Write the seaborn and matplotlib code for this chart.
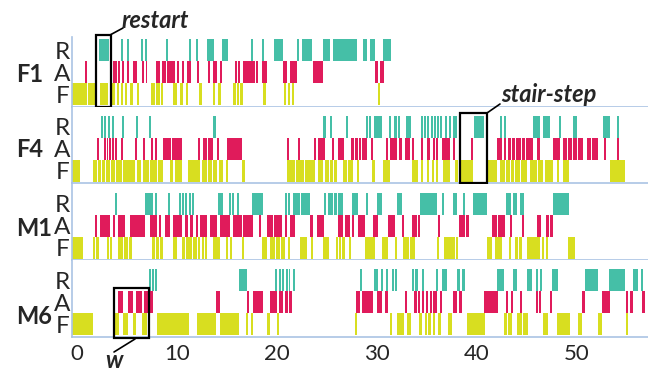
import matplotlib
matplotlib.use("Agg")
import matplotlib.pyplot as plt
from matplotlib.patches import Rectangle
from matplotlib.lines import Line2D
import seaborn as sns

# event segments (start, end) in seconds
F1_R = [(2.2, 3.2), (4.4, 4.6), (5.0, 5.2), (6.4, 6.6), (6.8, 7.0), (8.9, 9.1), (11.2, 11.4), (11.9, 12.1),
        (13.0, 13.7), (14.5, 15.1), (17.4, 17.6), (18.5, 18.7), (19.7, 20.6), (22.0, 22.2), (22.5, 23.5),
        (24.6, 25.3), (25.6, 28.0), (28.6, 29.0), (29.3, 29.8), (30.6, 31.4)]
F1_A = [(0.8, 1.0), (3.6, 4.0), (4.1, 4.3), (4.5, 4.7), (5.0, 5.2), (5.6, 6.0), (6.5, 6.7), (6.9, 7.0),
        (7.9, 8.3), (8.5, 8.9), (9.0, 9.8), (10.0, 10.2), (10.5, 10.7), (11.0, 11.4), (12.0, 12.2),
        (13.1, 13.3), (13.6, 14.0), (14.3, 14.5), (15.8, 16.0), (16.1, 16.3), (16.6, 17.8), (17.9, 18.1),
        (18.5, 19.0), (20.6, 21.0), (21.3, 22.0), (23.6, 24.6), (29.8, 30.1), (30.3, 30.7)]
F1_F = [(-0.5, 1.0), (1.1, 1.9), (2.3, 3.1), (3.5, 3.8), (4.0, 4.2), (4.4, 4.6), (4.8, 5.0), (5.3, 5.6),
        (6.0, 6.2), (7.4, 7.8), (7.9, 8.3), (8.4, 8.6), (9.6, 10.0), (10.3, 10.6), (10.9, 11.1),
        (12.2, 12.5), (13.6, 13.8), (14.1, 14.4), (15.6, 15.9), (16.0, 16.2), (16.3, 16.6), (18.6, 18.9),
        (20.7, 20.9), (21.1, 21.3), (21.5, 21.7), (30.1, 30.3)]

F4_R = [(2.4, 2.6), (2.7, 2.9), (3.1, 3.3), (3.5, 3.7), (4.5, 4.7), (5.9, 6.1), (7.2, 7.4), (13.6, 13.9),
        (24.6, 24.9), (25.3, 25.5), (26.9, 27.1), (28.9, 29.1), (29.2, 29.4), (29.7, 30.5), (31.2, 31.4),
        (31.7, 32.0), (32.1, 32.3), (32.9, 33.4), (34.4, 34.6), (34.7, 34.9), (35.0, 35.2), (35.4, 35.6),
        (35.7, 35.9), (36.0, 36.2), (36.3, 36.5), (36.8, 37.0), (37.2, 37.4), (37.6, 38.0), (39.7, 40.7),
        (42.3, 42.5), (42.7, 42.9), (45.6, 46.3), (46.6, 47.3), (48.2, 48.4), (49.6, 50.0), (52.6, 53.3),
        (54.0, 54.2)]
F4_A = [(2.0, 2.2), (2.7, 2.9), (3.0, 3.1), (3.2, 3.4), (3.5, 3.7), (3.8, 4.0), (4.4, 4.6), (5.8, 6.0),
        (6.6, 6.8), (7.4, 7.6), (7.8, 8.0), (8.6, 9.4), (9.5, 10.5), (12.1, 12.3), (12.6, 13.0), (13.1, 13.6),
        (14.0, 14.2), (15.0, 16.5), (21.0, 21.2), (22.1, 22.3), (23.7, 23.9), (24.1, 24.8), (25.5, 25.7),
        (26.1, 26.7), (27.4, 27.7), (27.8, 28.1), (28.2, 28.4), (28.5, 29.0), (29.4, 29.6), (30.9, 31.1),
        (31.3, 32.0), (32.2, 32.5), (32.8, 33.3), (33.5, 33.7), (34.4, 34.6), (35.0, 35.3), (35.6, 35.8),
        (35.9, 36.1), (36.5, 37.3), (37.6, 37.8), (39.4, 39.6), (42.0, 42.5), (42.7, 42.9), (43.1, 43.4),
        (43.5, 43.8), (43.9, 44.4), (44.5, 44.8), (44.9, 45.6), (46.0, 46.3), (47.6, 48.3), (48.6, 49.0),
        (49.1, 49.5), (49.6, 50.0), (50.1, 50.6), (51.0, 51.4), (51.5, 52.1), (52.7, 52.9), (54.0, 54.2)]
F4_F = [(-0.5, 0.3), (1.6, 2.0), (2.1, 2.4), (2.5, 2.8), (2.9, 3.3), (3.4, 3.8), (3.9, 4.5), (4.6, 5.8),
        (6.0, 6.4), (6.6, 7.2), (7.3, 8.0), (8.1, 8.6), (9.3, 9.6), (9.8, 10.5), (11.1, 12.3), (12.5, 13.0),
        (13.1, 13.5), (13.6, 14.0), (14.2, 14.6), (14.9, 15.1), (16.5, 16.8), (21.0, 21.8), (21.9, 22.7),
        (22.8, 23.8), (24.1, 24.6), (24.8, 25.2), (25.3, 25.6), (25.7, 26.0), (26.6, 27.0), (27.1, 27.6),
        (28.0, 28.2), (29.5, 29.8), (30.6, 31.3), (33.5, 34.1), (34.4, 34.6), (35.0, 35.2), (35.5, 35.7),
        (35.9, 36.1), (36.6, 37.3), (37.8, 38.1), (38.3, 39.6), (41.0, 42.0), (42.3, 42.8), (42.9, 43.3),
        (43.4, 43.7), (43.8, 44.3), (44.4, 45.0), (45.3, 46.0), (46.1, 46.6), (46.8, 47.6), (48.0, 48.2),
        (48.6, 49.2), (53.3, 54.8)]

M1_R = [(3.8, 4.0), (6.8, 7.6), (7.8, 8.0), (9.1, 9.3), (10.2, 10.4), (10.5, 10.7), (10.8, 11.0), (11.2, 11.4),
        (11.5, 11.7), (14.1, 14.6), (15.2, 15.4), (15.5, 15.7), (16.0, 16.2), (17.5, 18.6), (20.8, 21.0),
        (21.1, 21.3), (21.6, 22.3), (22.4, 23.3), (24.7, 24.9), (25.1, 25.6), (25.7, 26.0), (26.1, 26.6),
        (27.5, 28.1), (28.9, 29.1), (30.0, 30.5), (32.0, 32.5), (34.3, 36.0), (36.5, 36.7), (37.6, 38.0),
        (38.6, 38.8), (39.6, 41.0), (42.9, 43.4), (43.6, 44.0), (44.3, 44.7), (47.6, 49.2)]
M1_A = [(1.8, 2.0), (2.3, 3.3), (3.6, 3.8), (4.1, 4.8), (5.3, 6.8), (7.3, 8.0), (8.2, 8.4), (8.8, 9.3),
        (9.6, 10.5), (10.8, 11.1), (11.3, 11.6), (11.9, 12.1), (12.3, 13.0), (13.3, 14.0), (14.3, 15.3),
        (15.6, 16.5), (16.6, 17.6), (18.2, 18.4), (19.0, 19.6), (19.7, 20.5), (20.8, 21.0), (21.3, 21.8),
        (23.3, 23.6), (24.0, 24.7), (26.1, 26.6), (26.8, 27.3), (27.5, 27.7), (28.1, 28.8), (29.6, 30.1),
        (31.1, 31.8), (32.5, 32.7), (33.5, 34.0), (34.1, 34.3), (36.1, 36.3), (38.2, 38.8), (38.9, 39.2),
        (41.5, 42.0), (42.1, 42.8), (43.3, 43.5), (44.5, 44.7), (46.0, 46.4), (46.9, 47.2), (47.3, 47.6)]
M1_F = [(-0.5, 0.6), (1.6, 1.8), (1.9, 2.2), (3.0, 3.2), (3.3, 3.5), (4.1, 4.6), (4.7, 5.1), (5.2, 5.5),
        (7.5, 7.8), (7.9, 8.2), (8.3, 8.6), (9.6, 10.0), (10.5, 10.8), (10.9, 11.5), (11.6, 12.0),
        (12.1, 12.3), (12.5, 12.7), (12.8, 13.0), (13.6, 14.3), (14.9, 15.1), (15.3, 15.5), (16.5, 16.7),
        (18.5, 19.0), (19.3, 19.8), (19.9, 20.3), (20.4, 20.8), (21.1, 21.3), (22.3, 23.0), (23.4, 23.6),
        (24.6, 25.2), (25.9, 26.1), (26.2, 26.4), (26.5, 26.8), (27.2, 27.4), (28.8, 29.8), (30.5, 31.1),
        (31.8, 32.0), (32.6, 33.2), (33.3, 33.8), (36.0, 36.2), (36.7, 37.8), (37.9, 38.1), (41.0, 41.5),
        (41.8, 42.5), (43.2, 43.4), (43.8, 44.1), (44.2, 44.5), (45.0, 46.3), (46.5, 46.7), (46.9, 47.1),
        (49.1, 49.8)]

M6_R = [(7.2, 7.4), (7.5, 7.7), (7.8, 8.0), (16.2, 17.0), (19.8, 20.0), (20.2, 20.4), (20.5, 20.7), (20.9, 21.1),
        (21.2, 21.3), (21.6, 21.8), (28.3, 28.5), (29.7, 30.1), (30.4, 30.6), (30.9, 31.1), (31.5, 31.7),
        (31.8, 32.0), (33.5, 33.7), (33.8, 34.1), (34.5, 34.7), (35.9, 36.1), (36.5, 37.0), (38.0, 38.3),
        (38.5, 38.8), (42.0, 42.7), (43.6, 44.0), (45.0, 45.5), (45.9, 46.1), (46.3, 46.5), (47.5, 48.1),
        (50.8, 52.1), (53.2, 54.8), (55.6, 56.1), (56.4, 56.6)]
M6_A = [(4.1, 4.6), (5.1, 5.6), (5.9, 6.5), (6.7, 7.1), (7.2, 7.6), (13.9, 14.3), (17.0, 17.2), (17.6, 18.6),
        (19.3, 20.0), (20.2, 20.6), (20.8, 21.1), (21.2, 21.5), (27.9, 28.3), (28.5, 29.6), (30.0, 30.5),
        (30.8, 31.1), (32.8, 33.0), (33.7, 34.0), (34.1, 34.3), (34.5, 34.7), (34.9, 35.1), (35.3, 35.5),
        (35.6, 36.0), (36.3, 36.5), (37.6, 38.0), (38.2, 38.5), (40.7, 42.1), (42.9, 43.1), (43.4, 43.6),
        (44.3, 44.5), (45.9, 46.1), (46.2, 46.4), (47.3, 47.5), (50.5, 50.8), (52.5, 53.3), (54.9, 55.1),
        (55.3, 55.6), (56.5, 56.8)]
M6_F = [(-0.5, 1.6), (3.8, 4.2), (4.6, 5.1), (5.6, 5.9), (6.5, 7.0), (8.0, 11.2), (12.0, 13.9), (14.3, 16.2),
        (16.9, 17.1), (17.4, 17.6), (19.0, 19.3), (20.0, 20.2), (27.8, 28.0), (31.3, 31.5), (32.0, 32.7),
        (33.0, 33.4), (34.2, 34.5), (34.8, 35.0), (35.1, 35.4), (35.6, 35.8), (36.1, 36.4), (37.1, 37.5),
        (39.0, 40.8), (42.7, 43.0), (43.1, 43.5), (44.0, 44.5), (44.6, 45.1), (46.6, 47.1), (48.0, 49.3),
        (50.1, 50.5), (52.1, 52.5), (54.9, 55.1)]

panels = ['F1', 'F4', 'M1', 'M6']
rows = ['F', 'A', 'R']
xticks = [0, 10, 20, 30, 40, 50]

segments = {
    'F1': {'R': F1_R, 'A': F1_A, 'F': F1_F},
    'F4': {'R': F4_R, 'A': F4_A, 'F': F4_F},
    'M1': {'R': M1_R, 'A': M1_A, 'F': M1_F},
    'M6': {'R': M6_R, 'A': M6_A, 'F': M6_F},
}
colors = {'R': '#45bfa7', 'A': '#e01b5b', 'F': '#d8de20'}
line_blue = '#aac4e4'

sns.set_theme(style='white')
plt.rcParams['font.family'] = ['Lato', 'DejaVu Sans']

W, H = 648, 371
fig, axes = plt.subplots(4, 1, figsize=(W / 100, H / 100), dpi=100, sharex=True)
fig.subplots_adjust(left=72 / W, right=1.0, top=1 - 30 / H, bottom=1 - 337 / H, hspace=0)

for ax, name in zip(axes, panels):
    for i, r in enumerate(rows):
        segs = segments[name][r]
        ax.broken_barh([(a, b - a) for a, b in segs], (i - 0.5, 1), facecolors=colors[r], linewidth=0)
    ax.set_ylim(-0.57, 2.92)
    ax.set_xlim(-0.5, 57.1)
    ax.set_yticks(range(len(rows)))
    ax.set_yticklabels(rows, fontsize=17.5)
    ax.tick_params(axis='both', length=0)
    ax.tick_params(axis='y', pad=1.5)
    sns.despine(ax=ax, top=True, right=True)
    for s in ['left', 'bottom']:
        ax.spines[s].set_color(line_blue)
        ax.spines[s].set_linewidth(1.2)
axes[0].spines['left'].set_bounds(-0.57, 2.6)

axes[-1].set_xticks(xticks)
axes[-1].set_xticklabels([str(t) for t in xticks], fontsize=16)
axes[-1].tick_params(axis='x', pad=5)


def fx(x):
    return x / W


def fy(y):
    return 1 - y / H


# panel labels
label_y = {'F1': 75, 'F4': 150, 'M1': 229, 'M6': 317}
for name in panels:
    fig.text(fx(16), fy(label_y[name]), name, fontsize=17, fontweight='bold', va='center', ha='left')

# annotation boxes
box_kw = dict(fill=False, edgecolor='black', linewidth=1.6, clip_on=False, zorder=5)
axes[0].add_patch(Rectangle((1.9, -0.6), 1.5, 3.29, **box_kw))
axes[1].add_patch(Rectangle((38.3, -0.57), 2.7, 3.21, **box_kw))
axes[3].add_patch(Rectangle((3.7, -0.61), 3.5, 2.27, **box_kw))

txt_kw = dict(fontsize=17, fontweight='bold', style='italic', va='center', ha='left')
fig.text(fx(122), fy(21), 'restart', **txt_kw)
fig.text(fx(501), fy(95), 'stair-step', **txt_kw)
fig.text(fx(105), fy(361), 'w', **txt_kw)

for (x0, y0), (x1, y1) in [((110, 35), (123, 28)), ((487, 113), (500, 104)), ((135, 339), (114, 352))]:
    fig.add_artist(Line2D([fx(x0), fx(x1)], [fy(y0), fy(y1)], color='black', linewidth=1.2))

fig.savefig('out.png', dpi=100)
